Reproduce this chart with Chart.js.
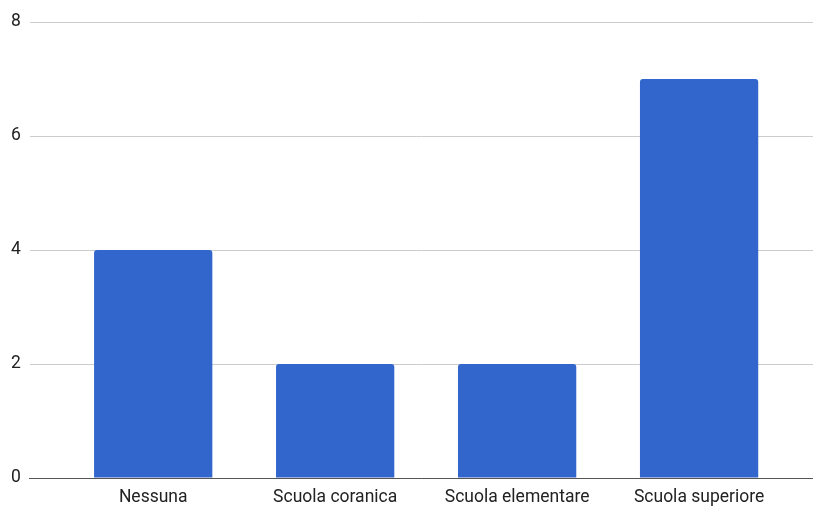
<!DOCTYPE html>
<html>
<head>
<meta charset="utf-8">
<script src="https://cdn.jsdelivr.net/npm/chart.js@4"></script>
<style>
  html, body { margin: 0; padding: 0; background: #fff; }
  #wrap { width: 813px; height: 506px; position: relative; }
</style>
</head>
<body>
<div id="wrap"><canvas id="istruzioneChart"></canvas></div>
<script>
// Livello di istruzione: numero di persone per categoria
const categorie = ["Nessuna", "Scuola coranica", "Scuola elementare", "Scuola superiore"];
const valori = [4, 2, 2, 7];
const tickY = [0, 2, 4, 6, 8];

// le barre stanno su un asse lineare (0..3) per lasciare margine a sinistra e a destra
const punti = valori.map((v, i) => ({ x: i, y: v }));

const testo = "#222222";
const font = { family: "Roboto", size: 17.5, lineHeight: 1 };

new Chart(document.getElementById("istruzioneChart").getContext("2d"), {
  type: "bar",
  data: {
    datasets: [{
      data: punti,
      backgroundColor: "#3366cc",
      borderRadius: { topLeft: 3, topRight: 3 },
      borderSkipped: "start",
      categoryPercentage: 1,
      barPercentage: 0.65
    }]
  },
  options: {
    responsive: true,
    maintainAspectRatio: false,
    animation: false,
    layout: { padding: { top: 22, left: 2, right: 0, bottom: 0 } },
    plugins: { legend: { display: false }, tooltip: { enabled: false } },
    scales: {
      x: {
        type: "linear",
        offset: false,
        min: -0.678,
        max: 3.626,
        grid: { display: false, drawTicks: false },
        border: { color: "#555555", width: 1 },
        afterFit: axis => { axis.height = 28; },
        ticks: {
          stepSize: 1,
          includeBounds: false,
          autoSkip: false,
          maxRotation: 0,
          padding: 11,
          color: testo,
          font,
          callback: v => categorie[v] ?? ""
        }
      },
      y: {
        min: tickY[0],
        max: tickY[tickY.length - 1],
        afterBuildTicks: axis => { axis.ticks = tickY.map(value => ({ value })); },
        grid: { color: "#cccccc", drawTicks: false },
        border: { display: false },
        ticks: { padding: 9, color: testo, font }
      }
    }
  }
});
</script>
</body>
</html>
